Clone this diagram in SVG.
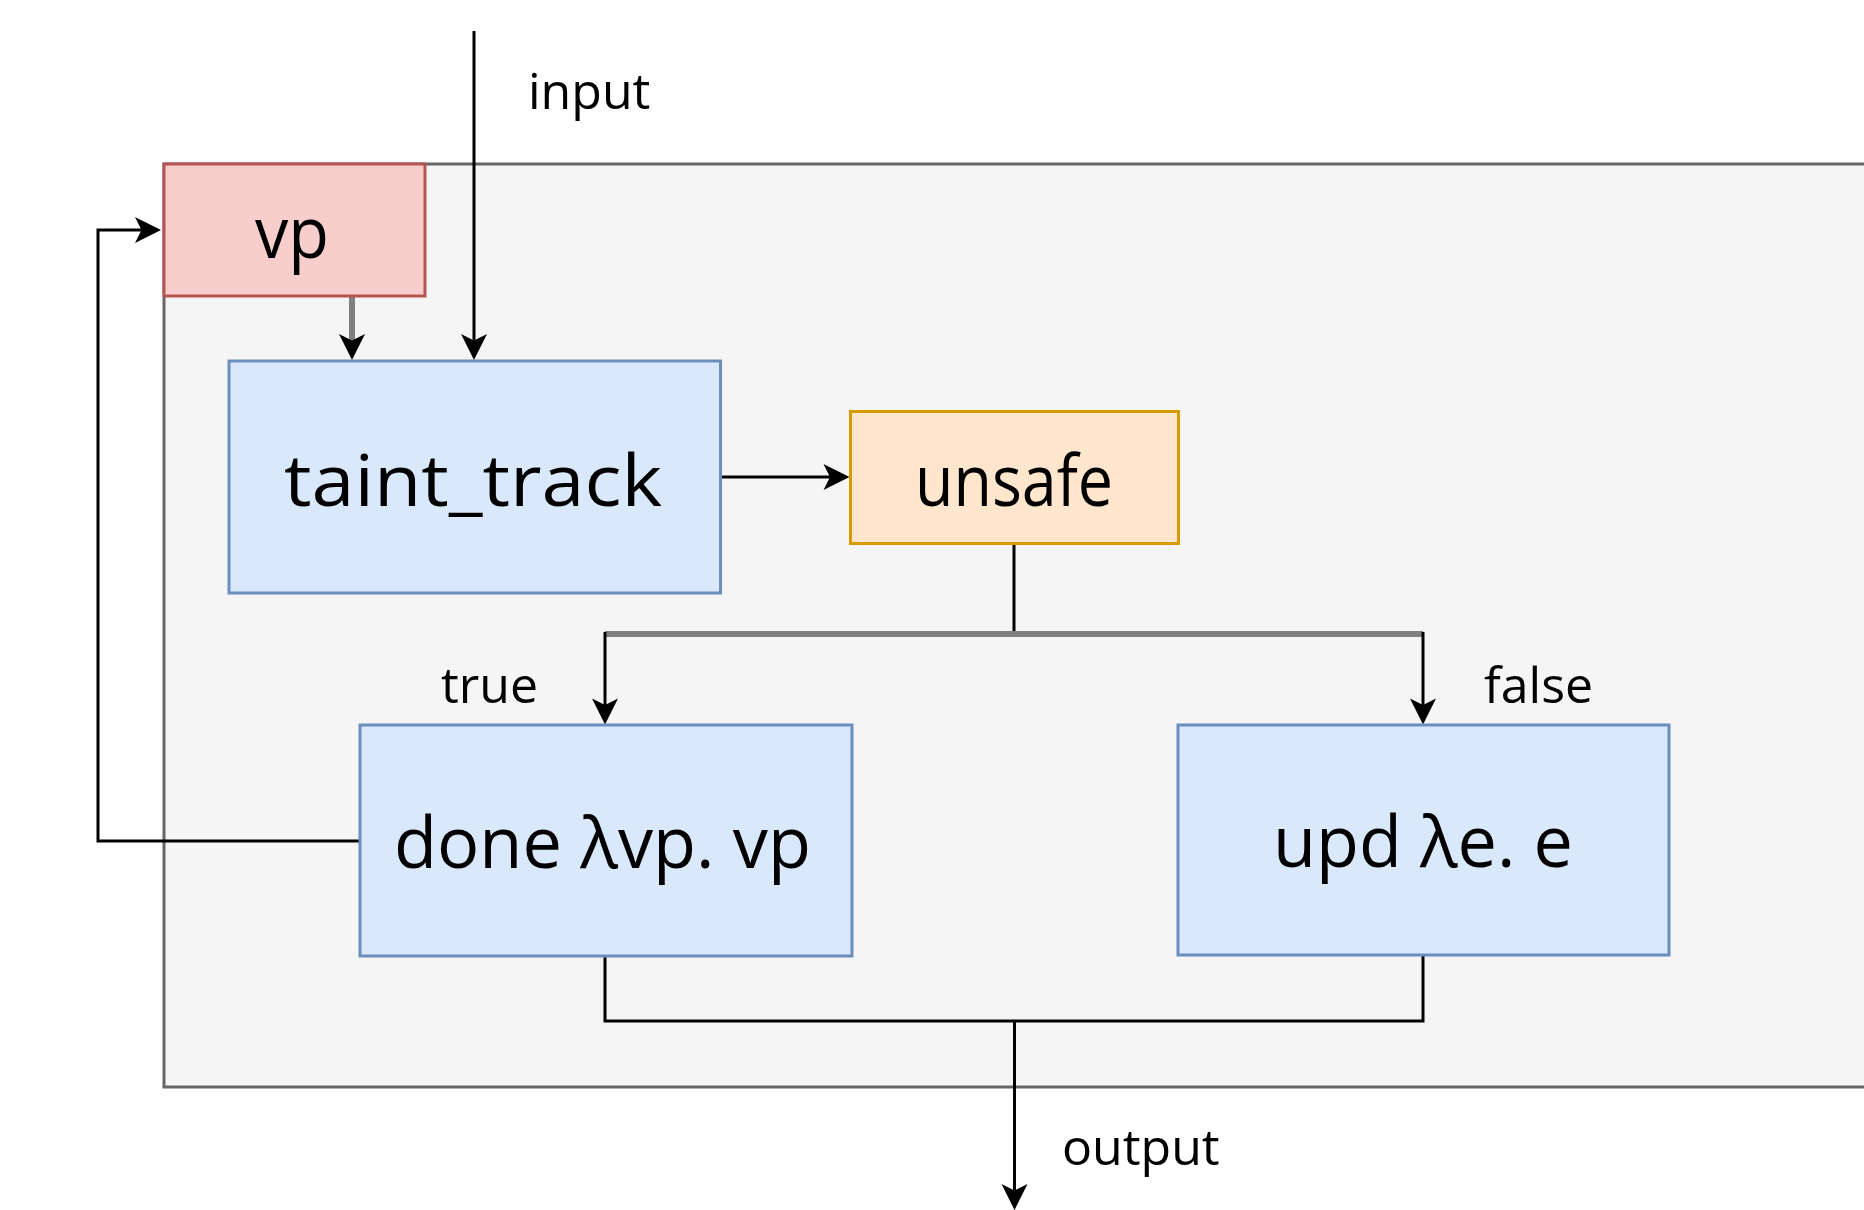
<svg xmlns="http://www.w3.org/2000/svg" width="1864" height="1210" viewBox="0 0 1864 1210">
  <style>
    .lbl { font-family: "Open Sans", "Noto Sans", sans-serif; font-size: 50px; fill: #000; }
    .big { font-family: "Open Sans", "Noto Sans", sans-serif; font-size: 72px; fill: #000; }
    .blue { fill: #dae8fc; stroke: #6c8ebf; stroke-width: 3; }
    .ln { fill: none; stroke: #000; stroke-width: 3; }
    .gr { fill: none; stroke: #808080; stroke-width: 6; }
  </style>
  <defs>
    <marker id="arr" markerUnits="userSpaceOnUse" viewBox="-8 -14 30 28" markerWidth="30" markerHeight="28" refX="0" refY="0" orient="auto">
      <path d="M19.5,0 L-6.5,-13 L0,0 L-6.5,13 Z" fill="#000"/>
    </marker>
  </defs>
  <rect width="1864" height="1210" fill="#fff"/>
  <g id="container">
    <rect x="164" y="164" width="1760" height="923" fill="#f5f5f5" stroke="#666666" stroke-width="3"/>
  </g>
  <g id="connectors">
    <path class="ln" d="M474,31 V340.5" marker-end="url(#arr)"/>
    <path class="gr" d="M352,296 V340.5" marker-end="url(#arr)"/>
    <path class="ln" d="M720.5,477 H830" marker-end="url(#arr)"/>
    <path class="ln" d="M1014,543.5 V634"/>
    <path class="gr" d="M605,634 H1423"/>
    <path class="ln" d="M605,632 V705" marker-end="url(#arr)"/>
    <path class="ln" d="M1423,632 V705" marker-end="url(#arr)"/>
    <path class="ln" d="M360,841 H98 V230 H141.5" marker-end="url(#arr)"/>
    <path class="ln" d="M605,956 V1021 H1423 V955"/>
    <path class="ln" d="M1014.5,1021 V1190.5" marker-end="url(#arr)"/>
    <text class="lbl" x="528" y="109">input</text>
    <text class="lbl" x="441" y="703">true</text>
    <text class="lbl" x="1484" y="703">false</text>
    <text class="lbl" x="1062" y="1165">output</text>
  </g>
  <g id="vp">
    <rect x="164" y="164" width="261" height="132" fill="#f8cecc" stroke="#b85450" stroke-width="3"/>
    <text class="big" x="255" y="258" textLength="74" lengthAdjust="spacingAndGlyphs">vp</text>
  </g>
  <g id="taint_track">
    <rect class="blue" x="229" y="361" width="491.5" height="232"/>
    <text class="big" x="284" y="506" textLength="378" lengthAdjust="spacingAndGlyphs">taint_track</text>
  </g>
  <g id="unsafe">
    <rect x="850.5" y="411.5" width="328" height="132" fill="#ffe6cc" stroke="#d79b00" stroke-width="3"/>
    <text class="big" x="915" y="506" textLength="198" lengthAdjust="spacingAndGlyphs">unsafe</text>
  </g>
  <g id="done">
    <rect class="blue" x="360" y="725" width="492" height="231"/>
    <text class="big" x="394" y="868" textLength="417" lengthAdjust="spacingAndGlyphs">done λvp. vp</text>
  </g>
  <g id="upd">
    <rect class="blue" x="1178" y="725" width="491" height="230"/>
    <text class="big" x="1273" y="867" textLength="300" lengthAdjust="spacingAndGlyphs">upd λe. e</text>
  </g>
</svg>
